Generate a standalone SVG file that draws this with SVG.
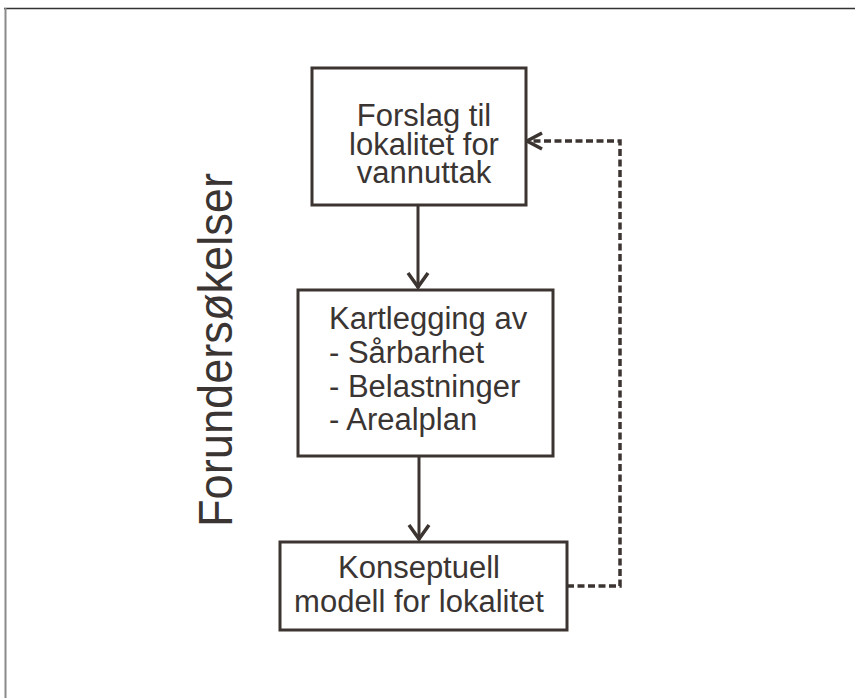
<svg xmlns="http://www.w3.org/2000/svg" width="855" height="698" viewBox="0 0 855 698">
<defs>
<style>
.box{fill:#fff;stroke:#3b3431;stroke-width:3}
.t{font-family:"Liberation Sans",Arial,sans-serif;font-size:31px;fill:#3a3533}
.c{fill:none;stroke:#3b3431;stroke-width:3}
.d{stroke-dasharray:7 3.5;stroke-width:3.5}
.ah{fill:none;stroke:#3b3431;stroke-width:3.5;stroke-linecap:butt;stroke-linejoin:miter}
</style>
</defs>
<rect width="855" height="698" fill="#fff"/>
<line x1="4" y1="8.5" x2="855" y2="8.5" stroke="#333" stroke-width="1.5"/>
<line x1="5.5" y1="8" x2="5.5" y2="698" stroke="#8a8a8a" stroke-width="2"/>
<text class="t" transform="translate(232,527) rotate(-90)" style="font-size:48px" textLength="354" lengthAdjust="spacingAndGlyphs">Forundersøkelser</text>
<g id="connectors">
<line class="c" x1="418" y1="205" x2="418" y2="288"/>
<polyline class="ah" points="408,273 418,287 428,273"/>
<line class="c" x1="419" y1="456" x2="419" y2="540"/>
<polyline class="ah" points="409,525 419,539 429,525"/>
<polyline class="c d" points="567,586 620,586 620,141 528,141"/>
<polyline class="ah" points="542,133 527,141 542,149"/>
</g>
<g id="n1">
<rect class="box" x="312" y="68" width="214" height="137"/>
<text class="t" text-anchor="middle" x="424" y="126">Forslag til</text>
<text class="t" text-anchor="middle" x="424" y="155">lokalitet for</text>
<text class="t" text-anchor="middle" x="424" y="183">vannuttak</text>
</g>
<g id="n2">
<rect class="box" x="298" y="290" width="255" height="166"/>
<text class="t" x="329" y="329">Kartlegging av</text>
<text class="t" x="329" y="363">- Sårbarhet</text>
<text class="t" x="329" y="397">- Belastninger</text>
<text class="t" x="329" y="430">- Arealplan</text>
</g>
<g id="n3">
<rect class="box" x="280" y="542" width="287" height="88"/>
<text class="t" text-anchor="middle" x="419" y="578">Konseptuell</text>
<text class="t" text-anchor="middle" x="419" y="612">modell for lokalitet</text>
</g>
</svg>
